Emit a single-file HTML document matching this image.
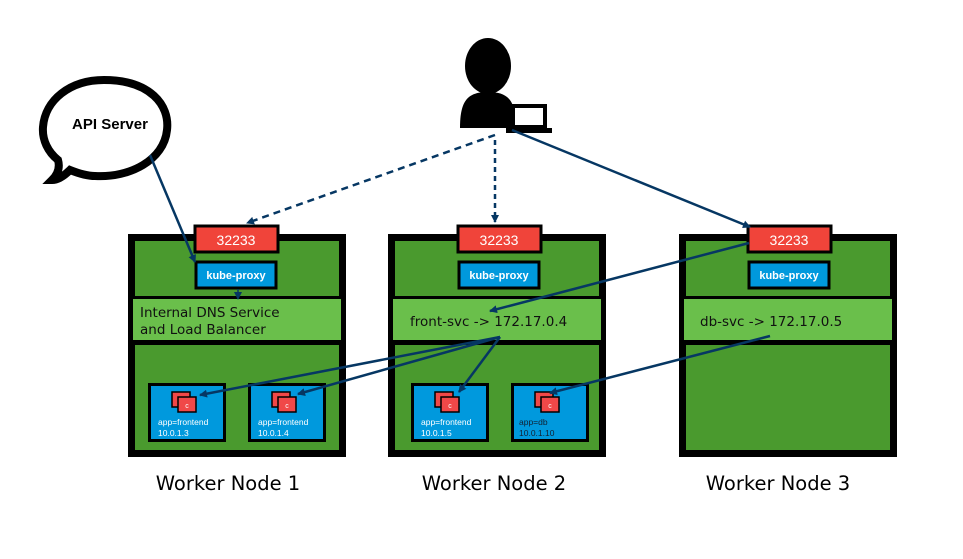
<!DOCTYPE html>
<html><head><style>body{margin:0;background:#fff}svg{display:block}</style></head><body>
<svg width="963" height="559" viewBox="0 0 963 559" xmlns="http://www.w3.org/2000/svg" font-family="Liberation Sans, DejaVu Sans, sans-serif">
<defs>
<marker id="a" markerWidth="8" markerHeight="8" refX="7" refY="4" orient="auto" markerUnits="userSpaceOnUse" viewBox="0 0 8 8"><path d="M0,0 L8,4 L0,8 z" fill="#063763"/></marker>
<g id="node">
<rect x="0" y="0" width="218" height="223" fill="#000"/>
<rect x="7" y="7" width="204" height="55" fill="#4a9a2e"/>
<rect x="5" y="65" width="208" height="41" fill="#6abf4b"/>
<rect x="7" y="111" width="204" height="105" fill="#4a9a2e"/>
</g>
<g id="pod">
<rect x="0" y="0" width="78" height="59" fill="#000"/>
<rect x="3" y="3" width="72" height="53" fill="#0099dd"/>
<rect x="24" y="9" width="18" height="15" fill="#f04848" stroke="#000" stroke-width="1.5"/>
<rect x="30" y="14" width="18" height="15" fill="#f04848" stroke="#000" stroke-width="1.5"/>
<text x="39" y="25" font-size="7" fill="#fff" text-anchor="middle">c</text>
</g>
</defs>
<path d="M104,80 C150,80 170,105 167,130 C164,160 130,178 95,176 C85,176 75,172 70,170 C65,175 58,180 52,180 C58,174 60,167 58,160 C48,152 42,140 43,127 C45,100 70,80 104,80 Z" fill="#fff" stroke="#000" stroke-width="8"/>
<text x="110" y="129" font-size="15" font-weight="bold" text-anchor="middle">API Server</text>
<use href="#node" x="128" y="234"/>
<use href="#node" x="388" y="234"/>
<use href="#node" x="679" y="234"/>
<g font-size="14" fill="#fff" text-anchor="middle">
<rect x="195" y="226" width="83" height="26" fill="#f0443a" stroke="#000" stroke-width="3"/><text x="236" y="245">32233</text>
<rect x="458" y="226" width="83" height="26" fill="#f0443a" stroke="#000" stroke-width="3"/><text x="499" y="245">32233</text>
<rect x="748" y="226" width="83" height="26" fill="#f0443a" stroke="#000" stroke-width="3"/><text x="789" y="245">32233</text>
</g>
<g font-size="11" font-weight="bold" fill="#fff" text-anchor="middle">
<rect x="196" y="262" width="80" height="26" fill="#0099dd" stroke="#000" stroke-width="3"/><text x="236" y="279">kube-proxy</text>
<rect x="459" y="262" width="80" height="26" fill="#0099dd" stroke="#000" stroke-width="3"/><text x="499" y="279">kube-proxy</text>
<rect x="749" y="262" width="80" height="26" fill="#0099dd" stroke="#000" stroke-width="3"/><text x="789" y="279">kube-proxy</text>
</g>
<g font-family="DejaVu Sans, sans-serif" font-size="13.5" fill="#111">
<text x="140" y="317">Internal DNS Service</text>
<text x="140" y="334">and Load Balancer</text>
<text x="410" y="326">front-svc -&gt; 172.17.0.4</text>
<text x="700" y="326">db-svc -&gt; 172.17.0.5</text>
</g>
<use href="#pod" x="148" y="383"/>
<use href="#pod" x="248" y="383"/>
<use href="#pod" x="411" y="383"/>
<use href="#pod" x="511" y="383"/>
<g font-size="8.5" fill="#fff">
<text x="158" y="425">app=frontend</text><text x="158" y="436">10.0.1.3</text>
<text x="258" y="425">app=frontend</text><text x="258" y="436">10.0.1.4</text>
<text x="421" y="425">app=frontend</text><text x="421" y="436">10.0.1.5</text>
</g>
<g font-size="8.5" fill="#123"><text x="519" y="425">app=db</text><text x="519" y="436">10.0.1.10</text></g>
<ellipse cx="488" cy="66" rx="23" ry="28" fill="#000"/>
<path d="M460,128 C460,100 468,92 488,92 C508,92 516,100 516,128 Z" fill="#000"/>
<rect x="511" y="104" width="36" height="25" fill="#000"/>
<rect x="515" y="108" width="28" height="17" fill="#fff"/>
<rect x="506" y="128" width="46" height="5" fill="#000"/>
<g stroke="#063763" stroke-width="2.5" fill="none" marker-end="url(#a)">
<path d="M150,155 L195,262"/>
<path d="M238,289 L238,299" stroke-width="1.5"/>
<path d="M495,135 L247,223" stroke-dasharray="7,5"/>
<path d="M495,140 L495,222" stroke-dasharray="5,4"/>
<path d="M512,130 L750,227"/>
<path d="M749,243 L490,311"/>
<path d="M500,337 L200,395"/>
<path d="M500,337 L298,394"/>
<path d="M500,337 L459,392"/>
<path d="M770,336 L550,393"/>
</g>
<g font-family="DejaVu Sans, sans-serif" font-size="19.5" fill="#000" text-anchor="middle">
<text x="228" y="490">Worker Node 1</text>
<text x="494" y="490">Worker Node 2</text>
<text x="778" y="490">Worker Node 3</text>
</g>
</svg>
</body></html>
